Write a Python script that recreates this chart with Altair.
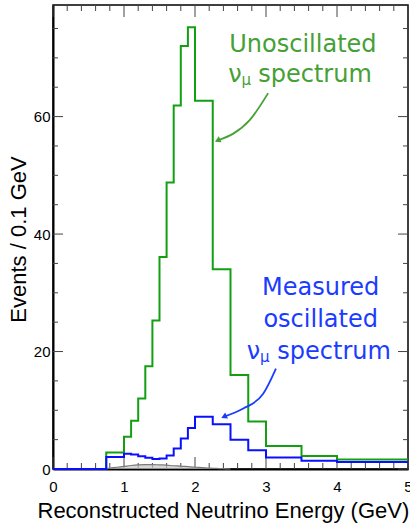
import altair as alt
import pandas as pd

# ---- histogram data (bin edges, events per bin) ----
edges = [0, 0.75, 1.0, 1.1, 1.2, 1.3, 1.4, 1.5, 1.6, 1.7, 1.8, 1.9, 2.0,
         2.25, 2.5, 2.75, 3.0, 3.5, 4.0, 5.0]
unosc = [0, 2.8, 5.5, 8.2, 12.0, 17.5, 25.3, 36.1, 48.8, 61.9, 72.0, 75.2,
         62.7, 34.0, 16.0, 8.1, 3.9, 2.2, 1.6]
measured = [0, 2.05, 2.6, 2.45, 2.15, 1.9, 1.7, 1.8, 2.3, 3.5, 5.2, 7.0,
            8.9, 7.6, 5.0, 3.2, 1.95, 1.4, 1.2]

# background (gray)
bg_x = [0.7, 0.8, 0.9, 1.0, 1.1, 1.2, 1.3, 1.4, 1.5, 1.6, 1.7, 1.8, 1.9,
        2.0, 2.1, 2.2, 2.3, 2.4, 2.5]
bg_y = [0, 0.15, 0.3, 0.45, 0.6, 0.7, 0.75, 0.75, 0.7, 0.65, 0.55, 0.5,
        0.4, 0.3, 0.25, 0.15, 0.1, 0.05, 0]

# axis ticks
x_major = [0, 1, 2, 3, 4, 5]
x_minor = [0.2, 0.4, 0.6, 0.8, 1.2, 1.4, 1.6, 1.8, 2.2, 2.4, 2.6, 2.8,
           3.2, 3.4, 3.6, 3.8, 4.2, 4.4, 4.6, 4.8]
y_major = [0, 20, 40, 60]
y_minor = [5, 10, 15, 25, 30, 35, 45, 50, 55, 65, 70, 75]

# annotations
green_txt = "#45a035"
blue_txt = "#1a3cff"
green_line = "#12a012"
blue_line = "#0a10ff"

g_center = pd.DataFrame({"t": ["Unoscillated"], "x": [3.52], "y": [71.0]})
g_left = pd.DataFrame({"t": ["ν", "spectrum"], "x": [2.47, 2.89], "y": [65.9, 65.9]})
g_sub = pd.DataFrame({"t": ["μ"], "x": [2.655], "y": [65.3]})
b_center = pd.DataFrame({"t": ["Measured", "oscillated"], "x": [3.77, 3.77], "y": [29.6, 24.2]})
b_left = pd.DataFrame({"t": ["ν", "spectrum"], "x": [2.73, 3.16], "y": [18.8, 18.8]})
b_sub = pd.DataFrame({"t": ["μ"], "x": [2.915], "y": [18.2]})

arrow_g_x = [3.03, 2.77, 2.54, 2.33]
arrow_g_y = [64.0, 59.4, 57.1, 56.0]
arrow_b_x = [3.14, 2.96, 2.68, 2.42]
arrow_b_y = [17.1, 12.8, 10.3, 8.97]

W, H = 355, 464
xs = alt.Scale(domain=[0, 5], nice=False, zero=False)
ys = alt.Scale(domain=[0, 79], nice=False, zero=False)

def step_df(vals):
    return pd.DataFrame({"x": edges, "y": vals + [vals[-1]]})

FONT = "Liberation Sans"

x_axis = alt.Axis(values=x_major, ticks=False, grid=False, labelFontSize=15,
                  labelFont=FONT, labelColor="black", labelPadding=10,
                  domainColor="black", domainWidth=2,
                  title="Reconstructed Neutrino Energy (GeV)", titleFont=FONT,
                  titleFontSize=22, titleFontWeight="normal", titleColor="black",
                  titleX=-16, titleY=48, titleAlign="left",
                  titleBaseline="alphabetic", labelFlush=False, labelOverlap=False)
y_axis = alt.Axis(values=y_major, ticks=False, grid=False, labelFontSize=15,
                  labelFont=FONT, labelColor="black", labelPadding=3,
                  domainColor="black", domainWidth=2,
                  title="Events / 0.1 GeV", titleFont=FONT, titleFontSize=22,
                  titleFontWeight="normal", titleColor="black",
                  titleX=-28, titleY=234, titleAngle=-90, titleAlign="center",
                  titleBaseline="alphabetic", labelFlush=False, labelOverlap=False)

def X(f="x:Q"):
    return alt.X(f, scale=xs, axis=x_axis)

def Y(f="y:Q"):
    return alt.Y(f, scale=ys, axis=y_axis)

# tick rules
def xticks(vals, L):
    d = pd.DataFrame({"v": vals})
    base = alt.Chart(d).mark_rule(color="#444", strokeWidth=1)
    bot = base.encode(x=X("v:Q"), y=alt.value(H), y2=alt.value(H - L))
    top = base.encode(x=X("v:Q"), y=alt.value(0), y2=alt.value(L))
    return [bot, top]

def yticks(vals, L):
    d = pd.DataFrame({"v": vals})
    base = alt.Chart(d).mark_rule(color="#444", strokeWidth=1)
    left = base.encode(y=Y("v:Q"), x=alt.value(0), x2=alt.value(L))
    right = base.encode(y=Y("v:Q"), x=alt.value(W), x2=alt.value(W - L))
    return [left, right]

ticks = xticks(x_major, 12) + xticks(x_minor, 6) + yticks(y_major, 10) + yticks(y_minor, 5)

bg = alt.Chart(pd.DataFrame({"x": bg_x, "y": bg_y})).mark_area(
    interpolate="monotone", color="#c4c4c4",
    line={"color": "#7a7a7a", "strokeWidth": 1.2}).encode(x=X(), y=Y())

green = alt.Chart(step_df(unosc)).mark_line(
    interpolate="step-after", color=green_line, strokeWidth=2).encode(x=X(), y=Y())

blue = alt.Chart(step_df(measured)).mark_line(
    interpolate="step-after", color=blue_line, strokeWidth=2).encode(x=X(), y=Y())

def arrow(ax, ay, col):
    d = pd.DataFrame({"x": ax, "y": ay, "o": list(range(len(ax)))})
    ln = alt.Chart(d).mark_line(interpolate="monotone", color=col, strokeWidth=1.8).encode(
        x=X(), y=Y(), order="o:Q")
    head = alt.Chart(d.tail(1)).mark_point(shape="triangle", filled=True, color=col,
                                           size=45, angle=245, opacity=1).encode(
        x=X(), y=Y())
    return [ln, head]

arrows = arrow(arrow_g_x, arrow_g_y, green_txt) + arrow(arrow_b_x, arrow_b_y, blue_txt)

def texts(df, align, size, col):
    return alt.Chart(df).mark_text(align=align, baseline="alphabetic",
                                   font="DejaVu Sans", fontSize=size,
                                   color=col).encode(
        x=X(), y=Y(), text="t:N")

labels = [texts(g_center, "center", 24, green_txt), texts(g_left, "left", 24, green_txt),
          texts(g_sub, "left", 15, green_txt),
          texts(b_center, "center", 24, blue_txt), texts(b_left, "left", 24, blue_txt),
          texts(b_sub, "left", 15, blue_txt)]

chart = alt.layer(*ticks, bg, green, blue, *arrows, *labels).properties(
    width=W, height=H,
    padding={"left": 53, "top": 5, "right": 2, "bottom": 55},
    autosize=alt.AutoSizeParams(type="none"),
    background="white",
).configure_view(stroke="black", strokeWidth=1.5)

chart.save("out.html", embed_options={"renderer": "svg", "actions": False})
